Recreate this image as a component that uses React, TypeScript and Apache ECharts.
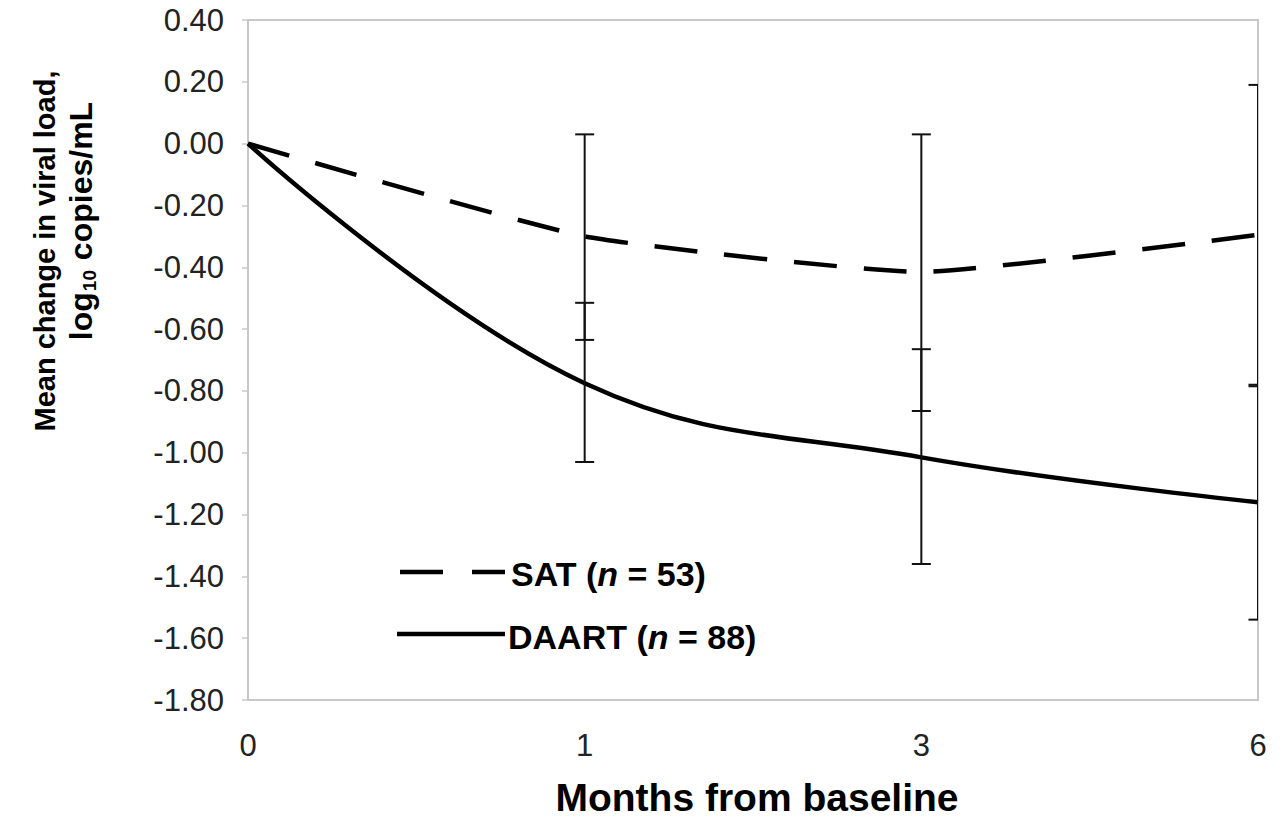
import React, { useEffect, useRef } from "react";
import * as echarts from "echarts";

const months = ["0", "1", "3", "6"];
const satMean = [0, -0.3, -0.415, -0.295];
const daartMean = [0, -0.775, -1.015, -1.16];
// error bars: [categoryIndex, upper, lower]
const satErr = [
  [1, 0.03, -0.635],
  [2, 0.03, -0.865],
  [3, 0.19, -0.785],
];
const daartErr = [
  [1, -0.515, -1.03],
  [2, -0.665, -1.36],
  [3, -0.78, -1.54],
];
const satLabel = ["SAT (", "n", " = 53)"];
const daartLabel = ["DAART (", "n", " = 88)"];

const FONT = "'Liberation Sans', Arial, sans-serif";

function errRender(params: any, api: any) {
  const x = api.value(0);
  const hi = api.coord([x, api.value(1)]);
  const lo = api.coord([x, api.value(2)]);
  const cap = 9.5;
  const style = { stroke: "#111", lineWidth: 2 };
  return {
    type: "group",
    children: [
      { type: "line", shape: { x1: hi[0], y1: hi[1], x2: lo[0], y2: lo[1] }, style },
      { type: "line", shape: { x1: hi[0] - cap, y1: hi[1], x2: hi[0] + cap, y2: hi[1] }, style },
      { type: "line", shape: { x1: lo[0] - cap, y1: lo[1], x2: lo[0] + cap, y2: lo[1] }, style },
    ],
  };
}

const legendRich = {
  b: { fontFamily: FONT, fontWeight: "bold", fontSize: 34, color: "#111" },
  i: { fontFamily: FONT, fontWeight: "bold", fontStyle: "italic", fontSize: 34, color: "#111" },
};
const richLabel = (p: string[]) => `{b|${p[0]}}{i|${p[1]}}{b|${p[2]}}`;

export default function App() {
  const ref = useRef<HTMLDivElement>(null);
  useEffect(() => {
    if (!ref.current) return;
    const chart = echarts.init(ref.current, null, { renderer: "svg" });
    chart.setOption({
      animation: false,
      backgroundColor: "#fff",
      grid: {
        left: 248,
        right: 29,
        top: 20,
        bottom: 120,
        show: true,
        borderColor: "#c8c8c8",
        borderWidth: 2,
        containLabel: false,
      },
      xAxis: {
        type: "category",
        data: months,
        boundaryGap: false,
        axisLine: { show: true, onZero: false, lineStyle: { color: "#c8c8c8", width: 2 } },
        axisTick: { show: false },
        axisLabel: { fontFamily: FONT, fontSize: 31, color: "#222", margin: 30 },
        splitLine: { show: false },
      },
      yAxis: {
        type: "value",
        min: -1.8,
        max: 0.4,
        interval: 0.2,
        axisLine: { show: true, lineStyle: { color: "#c8c8c8", width: 2 } },
        axisTick: { show: true, length: 6, lineStyle: { color: "#c8c8c8", width: 1.5 } },
        axisLabel: {
          fontFamily: FONT,
          fontSize: 31,
          color: "#222",
          margin: 24,
          formatter: (v: number) => v.toFixed(2),
        },
        splitLine: { show: false },
      },
      graphic: [
        {
          type: "text",
          x: 45,
          y: 251,
          rotation: Math.PI / 2,
          style: {
            text: "Mean change in viral load,",
            fontFamily: FONT,
            fontWeight: "bold",
            fontSize: 29,
            fill: "#000",
            textAlign: "center",
            textVerticalAlign: "middle",
          },
        },
        {
          type: "text",
          x: 81,
          y: 221,
          rotation: Math.PI / 2,
          style: {
            text: "{b|log}{s|10}{b| copies/mL}",
            textAlign: "center",
            textVerticalAlign: "middle",
            rich: {
              b: { fontFamily: FONT, fontWeight: "bold", fontSize: 32, color: "#000", lineHeight: 36, verticalAlign: "middle" },
              s: { fontFamily: FONT, fontWeight: "bold", fontSize: 19, color: "#000", lineHeight: 36, verticalAlign: "bottom", padding: [14, 1, 0, 1] },
            },
          },
        },
        {
          type: "text",
          x: 757,
          y: 797,
          style: {
            text: "Months from baseline",
            font: `bold 39px ${FONT}`,
            fill: "#000",
            textAlign: "center",
            textVerticalAlign: "middle",
          },
        },
        // legend
        {
          type: "line",
          shape: { x1: 400, y1: 572, x2: 505, y2: 572 },
          style: { stroke: "#000", lineWidth: 4.5, lineDash: [43, 29] },
        },
        {
          type: "text",
          x: 511,
          y: 574,
          style: { text: richLabel(satLabel), rich: legendRich, textAlign: "left", textVerticalAlign: "middle" },
        },
        {
          type: "line",
          shape: { x1: 397, y1: 634, x2: 505, y2: 634 },
          style: { stroke: "#000", lineWidth: 4.5 },
        },
        {
          type: "text",
          x: 508,
          y: 637,
          style: { text: richLabel(daartLabel), rich: legendRich, textAlign: "left", textVerticalAlign: "middle" },
        },
      ],
      series: [
        {
          name: "SAT",
          type: "line",
          data: satMean,
          smooth: 0.15,
          symbol: "none",
          lineStyle: { color: "#000", width: 4.5, type: [43, 27] },
          z: 3,
        },
        {
          name: "DAART",
          type: "line",
          data: daartMean,
          smooth: 0.4,
          symbol: "none",
          lineStyle: { color: "#000", width: 4.5, type: "solid" },
          z: 3,
        },
        {
          name: "satErr",
          type: "custom",
          data: satErr,
          renderItem: errRender,
          clip: true,
          encode: { x: 0, y: [1, 2] },
          z: 4,
          silent: true,
        },
        {
          name: "daartErr",
          type: "custom",
          data: daartErr,
          renderItem: errRender,
          clip: true,
          encode: { x: 0, y: [1, 2] },
          z: 4,
          silent: true,
        },
      ],
    });
    return () => chart.dispose();
  }, []);
  return <div ref={ref} style={{ width: 1287, height: 820, position: "absolute", left: 0, top: 0 }} />;
}
